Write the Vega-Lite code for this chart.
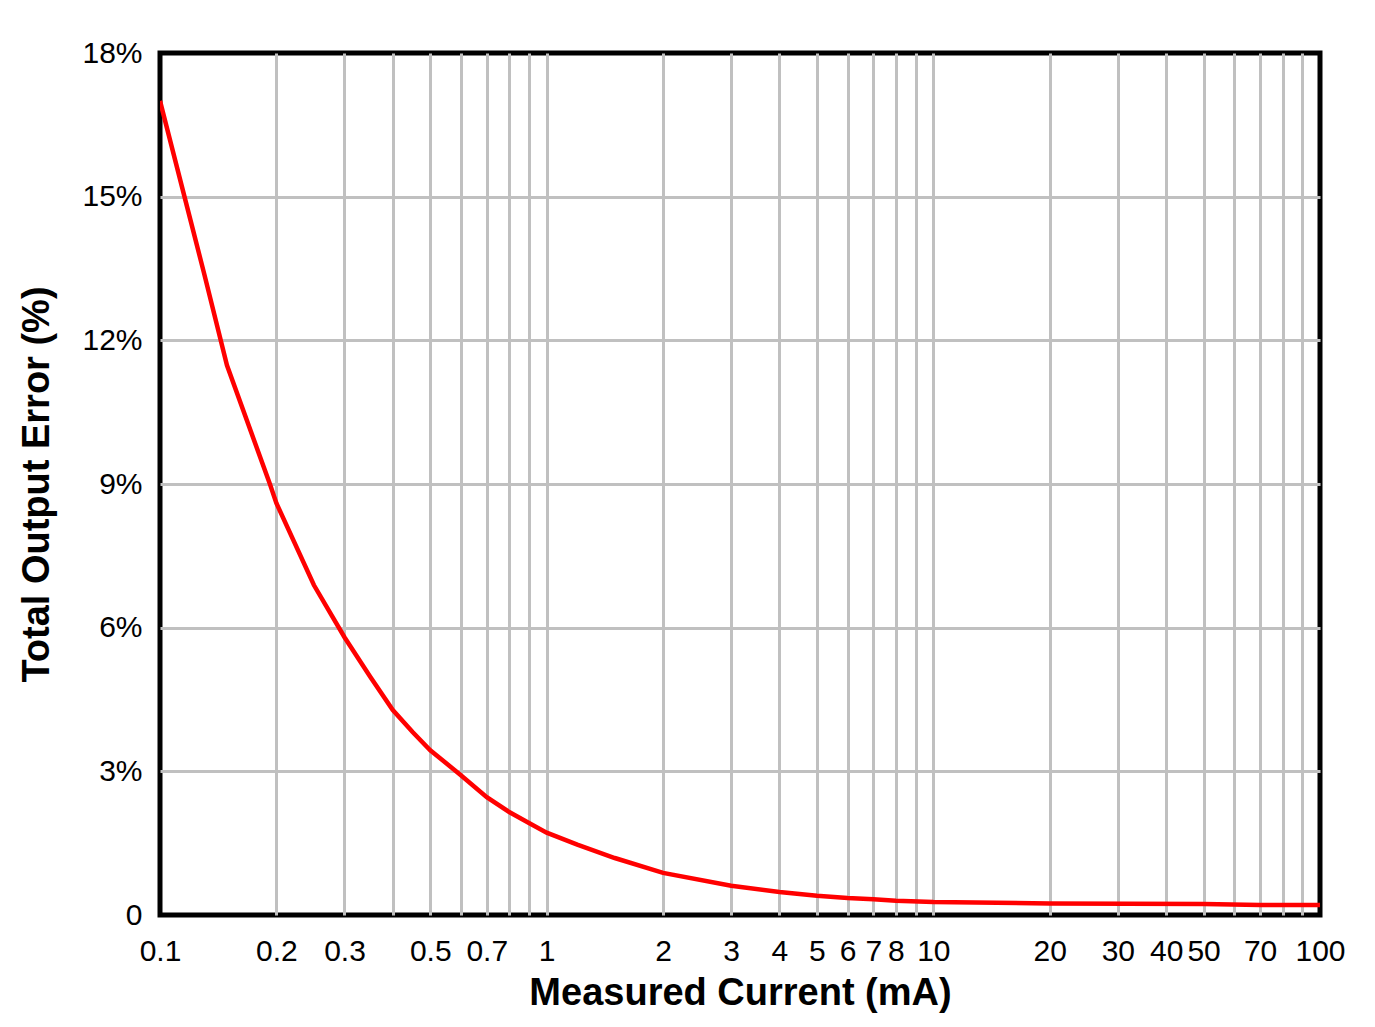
{
  "$schema": "https://vega.github.io/schema/vega-lite/v6.json",
  "autosize": "none",
  "width": 1160,
  "height": 862,
  "padding": {"left": 160, "top": 53, "right": 55, "bottom": 112},
  "background": "white",
  "config": {
    "view": {"stroke": "black", "strokeWidth": 5},
    "font": "Liberation Sans"
  },
  "data": {
    "values": [
      {"current": 0.1, "error": 17.0},
      {"current": 0.12, "error": 14.5},
      {"current": 0.13, "error": 13.4},
      {"current": 0.149, "error": 11.48},
      {"current": 0.1924, "error": 9.0},
      {"current": 0.2, "error": 8.6},
      {"current": 0.25, "error": 6.89},
      {"current": 0.3, "error": 5.8},
      {"current": 0.35, "error": 4.97},
      {"current": 0.4, "error": 4.28},
      {"current": 0.45, "error": 3.82},
      {"current": 0.5, "error": 3.44},
      {"current": 0.6, "error": 2.92},
      {"current": 0.7, "error": 2.46},
      {"current": 0.8, "error": 2.15},
      {"current": 0.9, "error": 1.92},
      {"current": 1, "error": 1.72},
      {"current": 1.2, "error": 1.47},
      {"current": 1.5, "error": 1.19},
      {"current": 2, "error": 0.88},
      {"current": 3, "error": 0.61},
      {"current": 4, "error": 0.48},
      {"current": 5, "error": 0.4},
      {"current": 6, "error": 0.355},
      {"current": 7, "error": 0.33},
      {"current": 8, "error": 0.3},
      {"current": 10, "error": 0.27},
      {"current": 20, "error": 0.24},
      {"current": 50, "error": 0.23},
      {"current": 70, "error": 0.21},
      {"current": 100, "error": 0.21}
    ]
  },
  "mark": {"type": "line", "color": "#ff0000", "strokeWidth": 4.5, "clip": true},
  "encoding": {
    "x": {
      "field": "current",
      "type": "quantitative",
      "scale": {"type": "log", "domain": [0.1, 100], "nice": false},
      "axis": {
        "title": "Measured Current (mA)",
        "values": [0.1,0.2,0.3,0.4,0.5,0.6,0.7,0.8,0.9,1,2,3,4,5,6,7,8,9,10,20,30,40,50,60,70,80,90,100],
        "labelExpr": "(datum.value == 0.4 || datum.value == 0.6 || datum.value == 0.8 || datum.value == 0.9 || datum.value == 9 || datum.value == 60 || datum.value == 80 || datum.value == 90) ? '' : '' + datum.value",
        "labelOverlap": false,
        "labelFlush": false,
        "labelFontSize": 30,
        "labelColor": "black",
        "labelFont": "Liberation Sans",
        "labelPadding": 21,
        "ticks": false,
        "tickSize": 0,
        "domain": false,
        "grid": true,
        "gridColor": "#c0c0c0",
        "gridWidth": 3,
        "gridOpacity": {"condition": {"test": "datum.value == 0.1 || datum.value == 100", "value": 0}, "value": 1},
        "titleFont": "Liberation Sans",
        "titleFontSize": 38,
        "titleFontWeight": "bold",
        "titleColor": "black",
        "titlePadding": 8
      }
    },
    "y": {
      "field": "error",
      "type": "quantitative",
      "scale": {"domain": [0, 18], "nice": false},
      "axis": {
        "title": "Total Output Error (%)",
        "values": [0, 3, 6, 9, 12, 15, 18],
        "labelExpr": "datum.value == 0 ? '0' : datum.value + '%'",
        "labelFontSize": 30,
        "labelColor": "black",
        "labelFont": "Liberation Sans",
        "labelPadding": 18,
        "ticks": false,
        "tickSize": 0,
        "domain": false,
        "grid": true,
        "gridColor": "#c0c0c0",
        "gridWidth": 3,
        "gridOpacity": {"condition": {"test": "datum.value == 0 || datum.value == 18", "value": 0}, "value": 1},
        "titleFont": "Liberation Sans",
        "titleFontSize": 38,
        "titleFontWeight": "bold",
        "titleColor": "black",
        "titlePadding": 25
      }
    }
  }
}
